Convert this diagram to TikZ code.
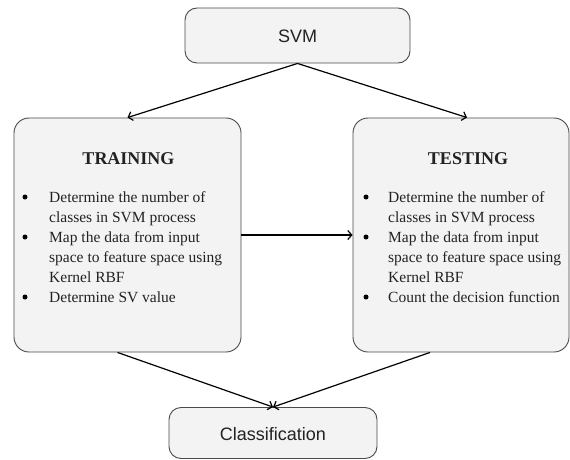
\documentclass[tikz,border=0pt]{standalone}
\usepackage{fontspec}
\setmainfont{Liberation Serif}
\newfontfamily\arialf{Liberation Sans}
\usetikzlibrary{arrows.meta}
\definecolor{boxfill}{HTML}{F3F3F3}
\definecolor{boxline}{HTML}{4A4A4A}
\definecolor{txt}{HTML}{222222}
\begin{document}
\begin{tikzpicture}[x=1pt,y=-1pt,
  box/.style={draw=boxline, fill=boxfill, line width=0.9pt, inner sep=0pt},
  conn/.style={line width=1.2pt, draw=black, -{Straight Barb[length=4pt,width=9pt,line width=1.2pt]}},
  sanslabel/.style={font=\arialf\fontsize{18}{20}\selectfont, text=txt, inner sep=0pt},
  title/.style={font=\bfseries\fontsize{18}{20}\selectfont, text=txt, inner sep=0pt, anchor=base},
  line/.style={font=\fontsize{15.5}{20}\selectfont, text=txt, inner sep=0pt, anchor=base west},
  bullet/.style={circle, fill=black, inner sep=0pt, minimum size=5pt}
]
\useasboundingbox (0,0) rectangle (570,460);
\fill[white] (0,0) rectangle (570,460);

% boxes
\node[box, rounded corners=12pt, minimum width=225pt, minimum height=55pt] (svm) at (297.5,35.5) {};
\node[sanslabel] (svmt) at (297.5,36) {SVM};

\node[box, rounded corners=15pt, minimum width=227pt, minimum height=234pt] (train) at (127.5,235) {};
\node[box, rounded corners=15pt, minimum width=216pt, minimum height=234pt] (test) at (461,235) {};

\node[box, rounded corners=12pt, minimum width=208pt, minimum height=51pt] (cls) at (273,433) {};
\node[sanslabel] (clst) at (273,434) {Classification};

% training content
\node[title] (trt) at (128.5,164) {TRAINING};
\node[bullet] (tb1) at (25,197) {};
\node[bullet] (tb2) at (25,237) {};
\node[bullet] (tb3) at (25,297) {};
\node[line] (tl1) at (49,202) {Determine the number of};
\node[line] (tl2) at (49,222) {classes in SVM process};
\node[line] (tl3) at (49,242) {Map the data from input};
\node[line] (tl4) at (49,262) {space to feature space using};
\node[line] (tl5) at (49,282) {Kernel RBF};
\node[line] (tl6) at (49,302) {Determine SV value};

% testing content
\node[title] (tet) at (468,164) {TESTING};
\node[bullet] (sb1) at (366,197) {};
\node[bullet] (sb2) at (366,237) {};
\node[bullet] (sb3) at (366,297) {};
\node[line] (sl1) at (388,202) {Determine the number of};
\node[line] (sl2) at (388,222) {classes in SVM process};
\node[line] (sl3) at (388,242) {Map the data from input};
\node[line] (sl4) at (388,262) {space to feature space using};
\node[line] (sl5) at (388,282) {Kernel RBF};
\node[line] (sl6) at (388,302) {Count the decision function};

% connectors
\draw[conn] (svm.south) -- (train.north);
\draw[conn] (svm.south) -- ([xshift=6pt]test.north);
\draw[conn] (train.east) -- (test.west);
\draw[conn] ([xshift=-10pt]train.south) -- (cls.north);
\draw[conn] ([xshift=-31pt]test.south) -- (cls.north);
\end{tikzpicture}
\end{document}
